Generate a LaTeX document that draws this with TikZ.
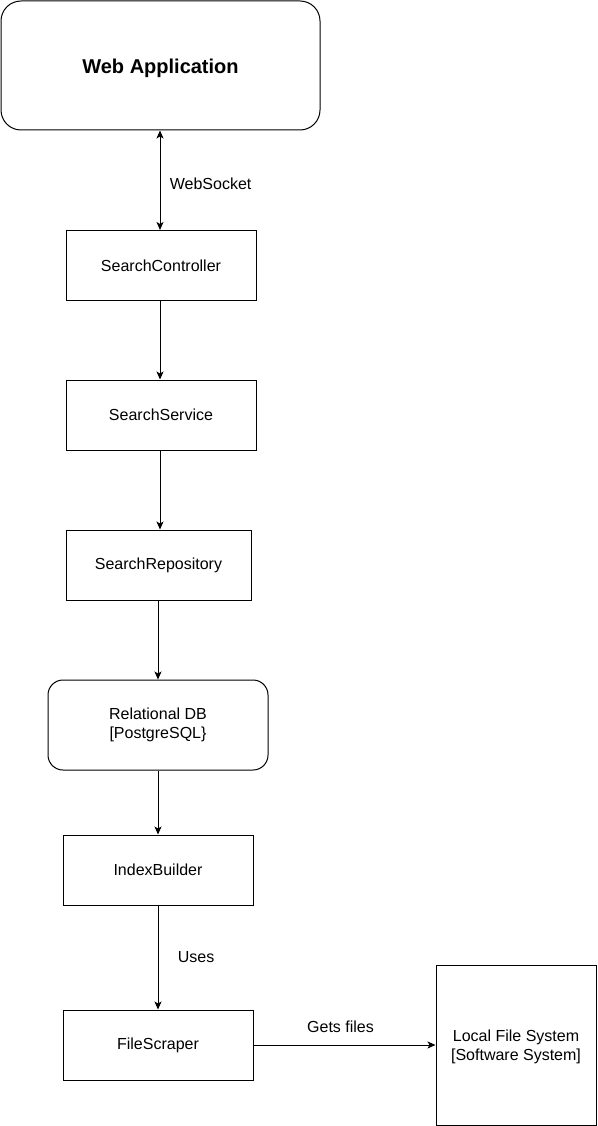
\documentclass[tikz,border=0pt]{standalone}
\usepackage{fontspec}
\setmainfont{Liberation Sans}
\usetikzlibrary{shapes.geometric, arrows.meta}
\tikzstyle{app} = [rectangle, rounded corners=20pt, minimum width=319pt, minimum height=129pt, text centered, draw=black, font=\fontsize{20}{24}\selectfont\bfseries]
\tikzstyle{comp} = [rectangle, minimum width=190pt, minimum height=70pt, text centered, draw=black, font=\fontsize{16}{19}\selectfont]
\tikzstyle{store} = [rectangle, rounded corners=15pt, minimum width=220pt, minimum height=90pt, align=center, draw=black, font=\fontsize{16}{19}\selectfont]
\tikzstyle{extsys} = [rectangle, minimum width=160pt, minimum height=160pt, align=center, draw=black, font=\fontsize{16}{19}\selectfont]
\tikzstyle{lbl} = [font=\fontsize{16}{19}\selectfont]
\tikzstyle{arrow} = [line width=1pt,->,>={Stealth[length=8pt,width=7pt,inset=2pt]}]

\begin{document}
\begin{tikzpicture}[x=1pt, y=-1pt, line width=1pt]
        \useasboundingbox (0,0) rectangle (597,1126);

        \node (webapp) [app, text height=19.5pt, text depth=4.3pt] at (160.5,65.5) {Web Application};
        \node (controller) [comp] at (161,265.5) {SearchController};
        \node (service) [comp] at (161,415) {SearchService};
        \node (repository) [comp, minimum width=185pt] at (158.5,565) {SearchRepository};
        \node (db) [store] at (158,725) {Relational DB\\{[}PostgreSQL\}};
        \node (indexer) [comp] at (158,870) {IndexBuilder};
        \node (scraper) [comp] at (158,1045) {FileScraper};
        \node (localfs) [extsys, text depth=-7pt] at (516,1045) {Local File System\\{[}Software System{]}};

        % Flechas
        \draw [arrow, <->] (webapp.south -| 160,0) -- (controller.north -| 160,0) node[lbl, midway, right=6pt, yshift=-4pt] {WebSocket};
        \draw [arrow] (controller.south -| 160,0) -- (service.north -| 160,0);
        \draw [arrow] (service.south -| 160,0) -- (repository.north -| 160,0);
        \draw [arrow] (repository.south -| 158,0) -- (db.north -| 158,0);
        \draw [arrow] (db) -- (indexer);
        \draw [arrow] (indexer) -- (scraper) node[lbl, midway, right=16pt] {Uses};
        \draw [arrow] (scraper) -- (localfs) node[lbl, midway, above=9pt, xshift=-4pt] {Gets files};

    \end{tikzpicture}
\end{document}
